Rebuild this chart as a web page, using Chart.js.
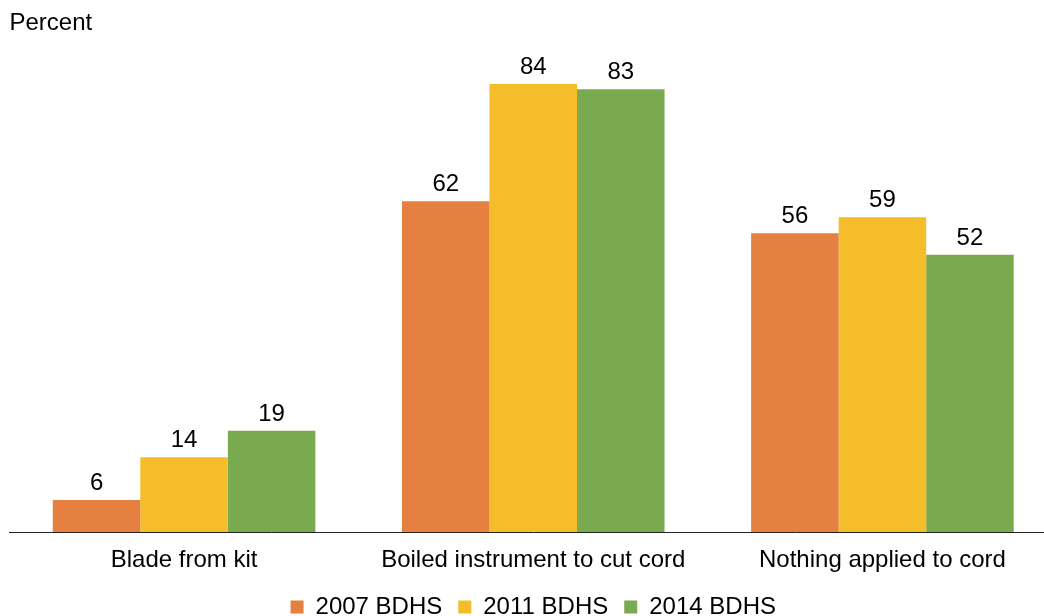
<!DOCTYPE html>
<html>
<head>
<meta charset="utf-8">
<script src="https://cdn.jsdelivr.net/npm/chart.js@4/dist/chart.umd.min.js"></script>
<style>
  html, body { margin: 0; padding: 0; background: #fff; overflow: hidden; }
  #wrap { width: 1044px; height: 616px; overflow: hidden; }
</style>
</head>
<body>
<div id="wrap"><canvas id="cord_chart" width="1057" height="616"></canvas></div>
<script>
// categories and series
const categories = ['Blade from kit', 'Boiled instrument to cut cord', 'Nothing applied to cord'];
const bdhs2007 = [6, 62, 56];
const bdhs2011 = [14, 84, 59];
const bdhs2014 = [19, 83, 52];
const seriesNames = ['2007 BDHS', '2011 BDHS', '2014 BDHS'];

Chart.defaults.font.family = '"Liberation Sans", Arial, sans-serif';
Chart.defaults.font.size = 24;
Chart.defaults.color = '#000';

// numbers above each bar
const barValues = {
    id: 'barValues',
    afterDatasetsDraw(chart){
        const ctx = chart.ctx;
        ctx.save();
        ctx.font = '24px "Liberation Sans", Arial, sans-serif';
        ctx.fillStyle = '#000';
        ctx.textAlign = 'center';
        ctx.textBaseline = 'alphabetic';
        chart.data.datasets.forEach(function(ds, i){
            chart.getDatasetMeta(i).data.forEach(function(bar, j){
                ctx.fillText(ds.data[j], bar.x, bar.y - 10);
            });
        });
        ctx.restore();
    }
};

let ctx = 'cord_chart';
let chart = new Chart(ctx, {
    type: 'bar',
    data: {
        labels: categories,
        datasets: [{
            label: seriesNames[0],
            backgroundColor: '#E58040',
            data: bdhs2007
        },{
            label: seriesNames[1],
            backgroundColor: '#F5BD2A',
            data: bdhs2011
        },{
            label: seriesNames[2],
            backgroundColor: '#7AAA50',
            data: bdhs2014
        }]
    },
    options: {
        responsive: false,
        animation: false,
        layout: { padding: { left: 9.5, right: 0, top: 0, bottom: 0 } },
        datasets: { bar: { barPercentage: 1, categoryPercentage: 0.752 } },
        scales: {
            x: {
                grid: { display: false, drawTicks: false },
                border: { display: true, color: '#222', width: 1 },
                ticks: { padding: 14, maxRotation: 0, autoSkip: false },
                afterFit: function(scale){ scale.height = 47; }
            },
            y: {
                display: false,
                min: 0,
                max: 90
            }
        },
        plugins: {
            title: {
                display: true,
                text: 'Percent',
                align: 'start',
                font: { size: 24, weight: 'normal' },
                padding: { top: 9, bottom: 14.2 }
            },
            legend: {
                position: 'bottom',
                maxHeight: 37,
                labels: { boxWidth: 13, boxHeight: 13, padding: 16, font: { size: 24 } }
            },
            tooltip: { enabled: false }
        }
    },
    plugins: [barValues]
});
</script>
</body>
</html>
